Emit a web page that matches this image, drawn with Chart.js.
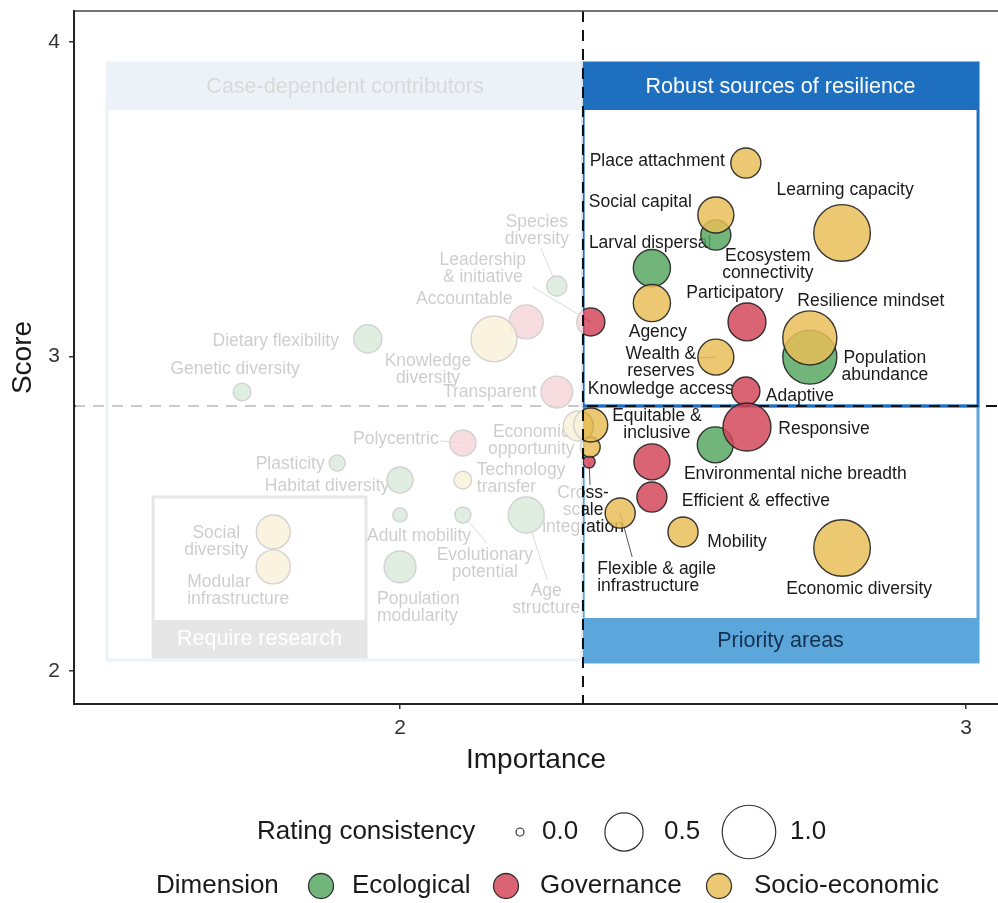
<!DOCTYPE html>
<html>
<head>
<meta charset="utf-8">
<script src="https://cdn.jsdelivr.net/npm/chart.js@4.4.1/dist/chart.umd.min.js"></script>
<style>
  html, body { margin: 0; padding: 0; background: #fff; }
  #wrap { width: 998px; height: 903px; }
</style>
</head>
<body>
<div id="wrap"><canvas id="chart" width="998" height="903"></canvas></div>
<script>
'use strict';

// one entry per resilience factor
const factors = [
  'Place attachment', 'Learning capacity', 'Social capital', 'Ecosystem connectivity',
  'Larval dispersal', 'Agency', 'Participatory', 'Resilience mindset',
  'Population abundance', 'Wealth & reserves', 'Leadership & initiative', 'Adaptive',
  'Knowledge access', '', 'Cross-scale integration', 'Responsive',
  'Environmental niche breadth', 'Equitable & inclusive', 'Efficient & effective',
  'Flexible & agile infrastructure', 'Mobility', 'Economic diversity',
  'Species diversity', 'Accountable', 'Knowledge diversity', 'Dietary flexibility',
  'Genetic diversity', 'Transparent', 'Economic opportunity', 'Polycentric',
  'Plasticity', 'Habitat diversity', 'Technology transfer', 'Adult mobility',
  'Evolutionary potential', 'Age structure', 'Social diversity',
  'Modular infrastructure', 'Population modularity',
];
// E = Ecological, G = Governance, S = Socio-economic
const dimension = [
  'S', 'S', 'S', 'E', 'E', 'S', 'G', 'S', 'E', 'S', 'G', 'G', 'S', 'S', 'G', 'G',
  'E', 'G', 'G', 'S', 'S', 'S', 'E', 'G', 'S', 'E', 'E', 'G', 'S', 'G', 'E', 'E',
  'S', 'E', 'E', 'E', 'S', 'S', 'E',
];
const importance = [
  2.611, 2.781, 2.558, 2.558, 2.445, 2.445, 2.613, 2.724, 2.724, 2.558, 2.337, 2.611,
  2.337, 2.336, 2.334, 2.613, 2.557, 2.445, 2.445, 2.389, 2.500, 2.781, 2.277, 2.223,
  2.166, 1.943, 1.721, 2.277, 2.315, 2.111, 1.889, 2.000, 2.111, 2.000, 2.111, 2.223,
  1.776, 1.776, 2.000,
];
const score = [
  3.615, 3.393, 3.450, 3.386, 3.281, 3.170, 3.110, 3.059, 2.998, 2.998, 3.110, 2.890,
  2.782, 2.712, 2.665, 2.776, 2.719, 2.665, 2.553, 2.502, 2.442, 2.391, 3.224, 3.110,
  3.056, 3.056, 2.887, 2.887, 2.779, 2.725, 2.661, 2.607, 2.607, 2.496, 2.496, 2.496,
  2.442, 2.331, 2.331,
];
const consistency = [
  0.30, 1.12, 0.44, 0.30, 0.47, 0.47, 0.49, 1.02, 1.02, 0.44, 0.26, 0.26,
  0.39, 0.12, 0.03, 0.80, 0.44, 0.44, 0.30, 0.30, 0.30, 1.12, 0.12, 0.39,
  0.73, 0.26, 0.09, 0.34, 0.30, 0.22, 0.07, 0.22, 0.09, 0.05, 0.07, 0.44,
  0.39, 0.39, 0.34,
];

const dimensions = ['Ecological', 'Governance', 'Socio-economic'];
const dimCodes = ['E', 'G', 'S'];
const xTicks = [2, 3];
const yTicks = [2, 3, 4];
const consistencyBreaks = [0.0, 0.5, 1.0];
const importanceCut = 2.3233;
const scoreCut = 2.8426;

// label placement (pixel nudge from the bubble, like ggrepel output)
const labelLayout = [
  ['Place attachment', -21, -2, 'right'], ['Learning capacity', 3, -43, 'center'],
  ['Social capital', -24, -13, 'right'], ['Ecosystem\nconnectivity', 52, 21, 'center'],
  ['Larval dispersal', -63, -25, 'left'], ['Agency', 6, 29, 'center'],
  ['Participatory', -12, -29, 'center'], ['Resilience mindset', 61, -37, 'center'],
  ['Population\nabundance', 75, 1, 'center'], ['Wealth &\nreserves', -55, -3, 'center'],
  ['Leadership\n& initiative', -108, -62, 'center'], ['Adaptive', 54, 5, 'center'],
  ['Knowledge access', 70, -36, 'center'], null,
  ['Cross-\nscale\nintegration', -6, 31, 'center'], ['Responsive', 77, 2, 'center'],
  ['Environmental niche breadth', 80, 29, 'center'], ['Equitable &\ninclusive', 5, -46, 'center'],
  ['Efficient & effective', 104, 4, 'center'], ['Flexible & agile\ninfrastructure', -23, 56, 'left'],
  ['Mobility', 54, 10, 'center'], ['Economic diversity', 17, 41, 'center'],
  ['Species\ndiversity', -20, -64, 'center'], ['Accountable', -62, -23, 'center'],
  ['Knowledge\ndiversity', -66, 22, 'center'], ['Dietary flexibility', -92, 2, 'center'],
  ['Genetic diversity', -7, -23, 'center'], ['Transparent', -67, 0, 'center'],
  ['Economic\nopportunity', -47, 6, 'center'], ['Polycentric', -67, -4, 'center'],
  ['Plasticity', -47, 1, 'center'], ['Habitat diversity', -73, 6, 'center'],
  ['Technology\ntransfer', 14, -10, 'left'], ['Adult mobility', 19, 21, 'center'],
  ['Evolutionary\npotential', 22, 40, 'center'], ['Age\nstructure', 20, 76, 'center'],
  ['Social\ndiversity', -57, 1, 'center'], ['Modular\ninfrastructure', -86, 15, 'left'],
  ['Population\nmodularity', -23, 32, 'left'],
];
// segment start (relative to bubble) for labels that got pushed away
const leaders = { 9: [-18, 1], 10: [-58, -35], 14: [1, 23], 19: [12, 44], 22: [-16, -38], 29: [-23, -2], 34: [24, 28], 35: [21, 65] };

// quadrant boxes in data units
const quadrants = [
  { text: 'Case-dependent contributors', x0: 1.4823, x1: importanceCut, y0: 2.035, y1: 3.9332, band: [3.7838, 3.9332], color: '#a9c4de', textColor: '#555' },
  { text: 'Require research', x0: 1.5636, x1: 1.9399, y0: 2.0445, y1: 2.5533, band: [2.0445, 2.1622], color: '#8c8c8c', textColor: '#fff' },
  { text: 'Priority areas', x0: importanceCut, x1: 3.0212, y0: 2.0286, y1: scoreCut, band: [2.0286, 2.1685], color: '#5ba6db', textColor: '#16314f' },
  { text: 'Robust sources of resilience', x0: importanceCut, x1: 3.0212, y0: scoreCut, y1: 3.9332, band: [3.7838, 3.9332], color: '#1f6fc0', textColor: '#fff' },
];

const FONT = '"Liberation Sans", Arial, Helvetica, sans-serif';
const dimColors = {
  'Ecological': 'rgba(88,168,100,0.85)',
  'Governance': 'rgba(212,72,92,0.85)',
  'Socio-economic': 'rgba(231,190,88,0.85)',
};
const dimOrder = { 'Ecological': 2, 'Governance': 1, 'Socio-economic': 0 };
const radius = c => Math.sqrt(16 + 700 * c);

const datasets = dimensions.map((d, k) => ({
  label: d,
  order: dimOrder[d],
  data: factors.map((f, i) => ({ x: importance[i], y: score[i], r: radius(consistency[i]) }))
    .filter((p, i) => dimension[i] === dimCodes[k])
    .sort((a, b) => a.x - b.x),
  backgroundColor: dimColors[d],
  borderColor: 'rgba(35,35,35,0.9)',
  borderWidth: 1.4,
}));

function drawLines(ctx, text, x, y, align, lh) {
  ctx.textAlign = align;
  text.split('\n').forEach((line, j) => ctx.fillText(line, x, y + j * lh));
}

const quadrantPlugin = {
  id: 'quadrants',
  beforeDatasetsDraw(chart) {
    const { ctx, chartArea: a, scales: { x, y } } = chart;
    ctx.save();
    ctx.beginPath();
    ctx.rect(a.left, a.top, a.right - a.left, a.bottom - a.top);
    ctx.clip();

    quadrants.forEach(q => {
      const L = x.getPixelForValue(q.x0), R = x.getPixelForValue(q.x1);
      const T = y.getPixelForValue(q.y1), B = y.getPixelForValue(q.y0);
      const bT = y.getPixelForValue(q.band[1]), bB = y.getPixelForValue(q.band[0]);
      ctx.fillStyle = q.color;
      ctx.fillRect(L, bT, R - L, bB - bT);
      ctx.strokeStyle = q.color;
      ctx.lineWidth = 3;
      ctx.strokeRect(L, T, R - L, B - T);
      ctx.fillStyle = q.textColor;
      ctx.font = `21.5px ${FONT}`;
      ctx.textAlign = 'center';
      ctx.textBaseline = 'middle';
      ctx.fillText(q.text, (L + R) / 2, (bT + bB) / 2 + 1);
    });

    // horizontal mean-score line
    const yc = y.getPixelForValue(scoreCut);
    ctx.setLineDash([11, 8]);
    ctx.strokeStyle = '#111';
    ctx.lineWidth = 2;
    ctx.beginPath();
    ctx.moveTo(a.left, yc);
    ctx.lineTo(a.right, yc);
    ctx.stroke();
    ctx.setLineDash([]);

    // labels + segments (under the bubbles)
    ctx.font = `17.5px ${FONT}`;
    ctx.textBaseline = 'middle';
    factors.forEach((f, i) => {
      const lab = labelLayout[i];
      if (!lab) return;
      const px = x.getPixelForValue(importance[i]);
      const py = y.getPixelForValue(score[i]);
      if (leaders[i]) {
        ctx.strokeStyle = '#555';
        ctx.lineWidth = 1;
        ctx.beginPath();
        ctx.moveTo(px + leaders[i][0], py + leaders[i][1]);
        ctx.lineTo(px, py);
        ctx.stroke();
      }
      ctx.fillStyle = '#1a1a1a';
      drawLines(ctx, lab[0], px + lab[1], py + lab[2], lab[3], 17);
    });
    ctx.restore();
  },
  afterDatasetsDraw(chart) {
    const { ctx, chartArea: a, scales: { x } } = chart;
    const xc = x.getPixelForValue(importanceCut);
    ctx.save();
    // fade everything below the importance cut
    ctx.fillStyle = 'rgba(255,255,255,0.78)';
    ctx.fillRect(a.left + 1.5, a.top + 1, xc - a.left - 1.5, a.bottom - a.top - 2.5);

    ctx.setLineDash([11, 8]);
    ctx.strokeStyle = '#111';
    ctx.lineWidth = 2;
    ctx.beginPath();
    ctx.moveTo(xc, a.top);
    ctx.lineTo(xc, a.bottom);
    ctx.stroke();
    ctx.setLineDash([]);

    ctx.strokeStyle = '#444';
    ctx.lineWidth = 1.5;
    ctx.beginPath();
    ctx.moveTo(a.left, a.top);
    ctx.lineTo(a.right, a.top);
    ctx.stroke();
    ctx.restore();
  },
  afterDraw(chart) {
    const { ctx } = chart;
    ctx.save();
    ctx.font = `26px ${FONT}`;
    ctx.textBaseline = 'middle';
    ctx.textAlign = 'left';
    ctx.fillStyle = '#1a1a1a';

    // size legend
    const y1 = 832;
    ctx.fillText('Rating consistency', 257, y1);
    const keyX = [520, 624, 749], labX = [542, 664, 790];
    consistencyBreaks.forEach((c, k) => {
      ctx.beginPath();
      ctx.arc(keyX[k], y1, radius(c), 0, Math.PI * 2);
      ctx.strokeStyle = '#333';
      ctx.lineWidth = 1.2;
      ctx.stroke();
      ctx.fillText(c.toFixed(1), labX[k], y1);
    });

    // colour legend
    const y2 = 886;
    ctx.fillText('Dimension', 156, y2);
    const dotX = [321, 506, 719], nameX = [352, 540, 754];
    dimensions.forEach((d, k) => {
      ctx.beginPath();
      ctx.arc(dotX[k], y2, 12.5, 0, Math.PI * 2);
      ctx.fillStyle = dimColors[d];
      ctx.fill();
      ctx.strokeStyle = 'rgba(35,35,35,0.9)';
      ctx.lineWidth = 1.3;
      ctx.stroke();
      ctx.fillStyle = '#1a1a1a';
      ctx.fillText(d, nameX[k], y2);
    });
    ctx.restore();
  },
};

new Chart(document.getElementById('chart'), {
  type: 'bubble',
  data: { datasets },
  options: {
    responsive: false,
    animation: false,
    events: [],
    layout: { autoPadding: false, padding: { top: 11, left: 0, right: 0, bottom: 0 } },
    plugins: { legend: { display: false }, tooltip: { enabled: false } },
    scales: {
      x: {
        type: 'linear',
        min: 1.424,
        max: 3.0565,
        afterFit: s => { s.height = 199; s.paddingLeft = 0; s.paddingRight = 0; },
        afterBuildTicks: s => { s.ticks = xTicks.map(v => ({ value: v })); },
        ticks: { color: '#333', padding: 7, font: { size: 21, family: FONT } },
        grid: { drawOnChartArea: false, drawTicks: true, tickLength: 5, color: '#333', lineWidth: 1.5 },
        border: { display: true, color: '#222', width: 2 },
        title: { display: true, text: 'Importance', color: '#1a1a1a', font: { size: 28, family: FONT }, padding: { top: 0, bottom: 126 } },
      },
      y: {
        type: 'linear',
        min: 1.895,
        max: 4.0986,
        afterFit: s => { s.width = 74; s.paddingTop = 0; s.paddingBottom = 0; },
        afterBuildTicks: s => { s.ticks = yTicks.map(v => ({ value: v })); },
        ticks: { color: '#333', padding: 9, font: { size: 21, family: FONT } },
        grid: { drawOnChartArea: false, drawTicks: true, tickLength: 5, color: '#333', lineWidth: 1.5 },
        border: { display: true, color: '#222', width: 2 },
        title: { display: true, text: 'Score', color: '#1a1a1a', font: { size: 28, family: FONT }, padding: { top: 6, bottom: 0 } },
      },
    },
  },
  plugins: [quadrantPlugin],
});
</script>
</body>
</html>
